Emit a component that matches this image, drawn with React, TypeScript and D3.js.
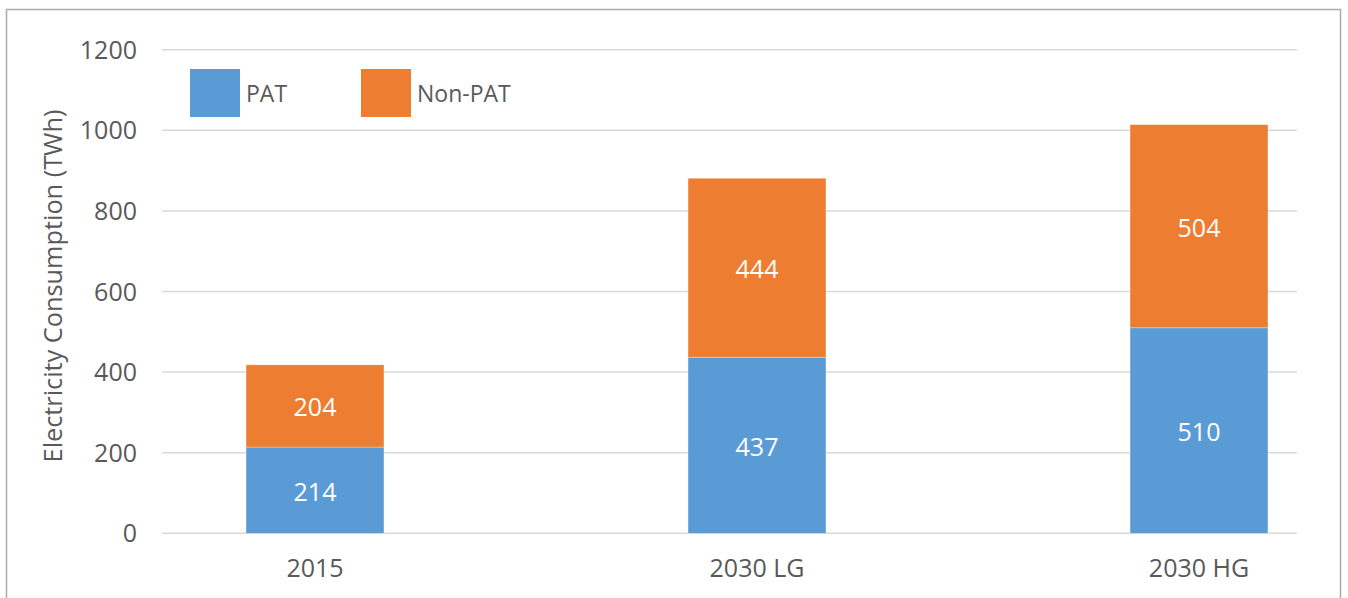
import React from "react";
import * as d3 from "d3";

const categories = ["2015", "2030 LG", "2030 HG"];
const patValues = [214, 437, 510];
const nonPatValues = [204, 444, 504];
const yTicks = [0, 200, 400, 600, 800, 1000, 1200];
const seriesNames = ["PAT", "Non-PAT"];
const seriesColors = ["#5b9bd5", "#ed7d31"];

const W = 1348;
const H = 598;
const FONT = "'Open Sans', sans-serif";

export default function App() {
  const y = d3.scaleLinear().domain([0, 1200]).range([533.3, 49.7]);
  const x = d3
    .scaleBand<string>()
    .domain(categories)
    .range([94, 1420])
    .paddingInner(0.688)
    .paddingOuter(0.344);
  const gridX0 = 162;
  const gridX1 = 1297;

  const rows = categories.map((c, i) => ({ cat: c, PAT: patValues[i], "Non-PAT": nonPatValues[i] }));
  const stacked = d3.stack<any>().keys(seriesNames)(rows);

  return (
    <svg
      width={W}
      height={H}
      style={{ position: "absolute", left: 0, top: 0, background: "#fff" }}
      fontFamily={FONT}
    >
      <rect x={6.5} y={9.5} width={1334} height={620} fill="#fff" stroke="#ababab" strokeWidth={1.5} />
      {yTicks.map((t) => (
        <g key={t}>
          <line x1={gridX0} x2={gridX1} y1={y(t)} y2={y(t)} stroke="#d9d9d9" strokeWidth={1.5} />
          <text x={137} y={y(t)} dy="0.36em" textAnchor="end" fontSize={25} fill="#595959">
            {t}
          </text>
        </g>
      ))}
      {stacked.map((s, si) =>
        s.map((d, i) => {
          const cat = categories[i];
          const x0 = x(cat)!;
          const y0 = y(d[0]);
          const y1 = y(d[1]);
          const val = d[1] - d[0];
          return (
            <g key={`${si}-${i}`}>
              <rect x={x0} y={y1} width={x.bandwidth()} height={y0 - y1} fill={seriesColors[si]} stroke="#fff" strokeOpacity={0.4} strokeWidth={0.75} />
              <text
                x={x0 + x.bandwidth() / 2}
                y={(y0 + y1) / 2}
                dy="0.42em"
                textAnchor="middle"
                fontSize={25}
                fill="#fff"
              >
                {val}
              </text>
            </g>
          );
        })
      )}
      {categories.map((c) => (
        <text key={c} x={x(c)! + x.bandwidth() / 2} y={577} textAnchor="middle" fontSize={25} fill="#595959">
          {c}
        </text>
      ))}
      <text
        transform={`translate(62,${286}) rotate(-90)`}
        textAnchor="middle"
        fontSize={25.3}
        fill="#595959"
      >
        Electricity Consumption (TWh)
      </text>
      {seriesNames.map((n, i) => {
        const lx = [190, 361][i];
        return (
          <g key={n}>
            <rect x={lx} y={69} width={50} height={48} fill={seriesColors[i]} />
            <text x={lx + 56} y={102} fontSize={23} fill="#595959">
              {n}
            </text>
          </g>
        );
      })}
    </svg>
  );
}
